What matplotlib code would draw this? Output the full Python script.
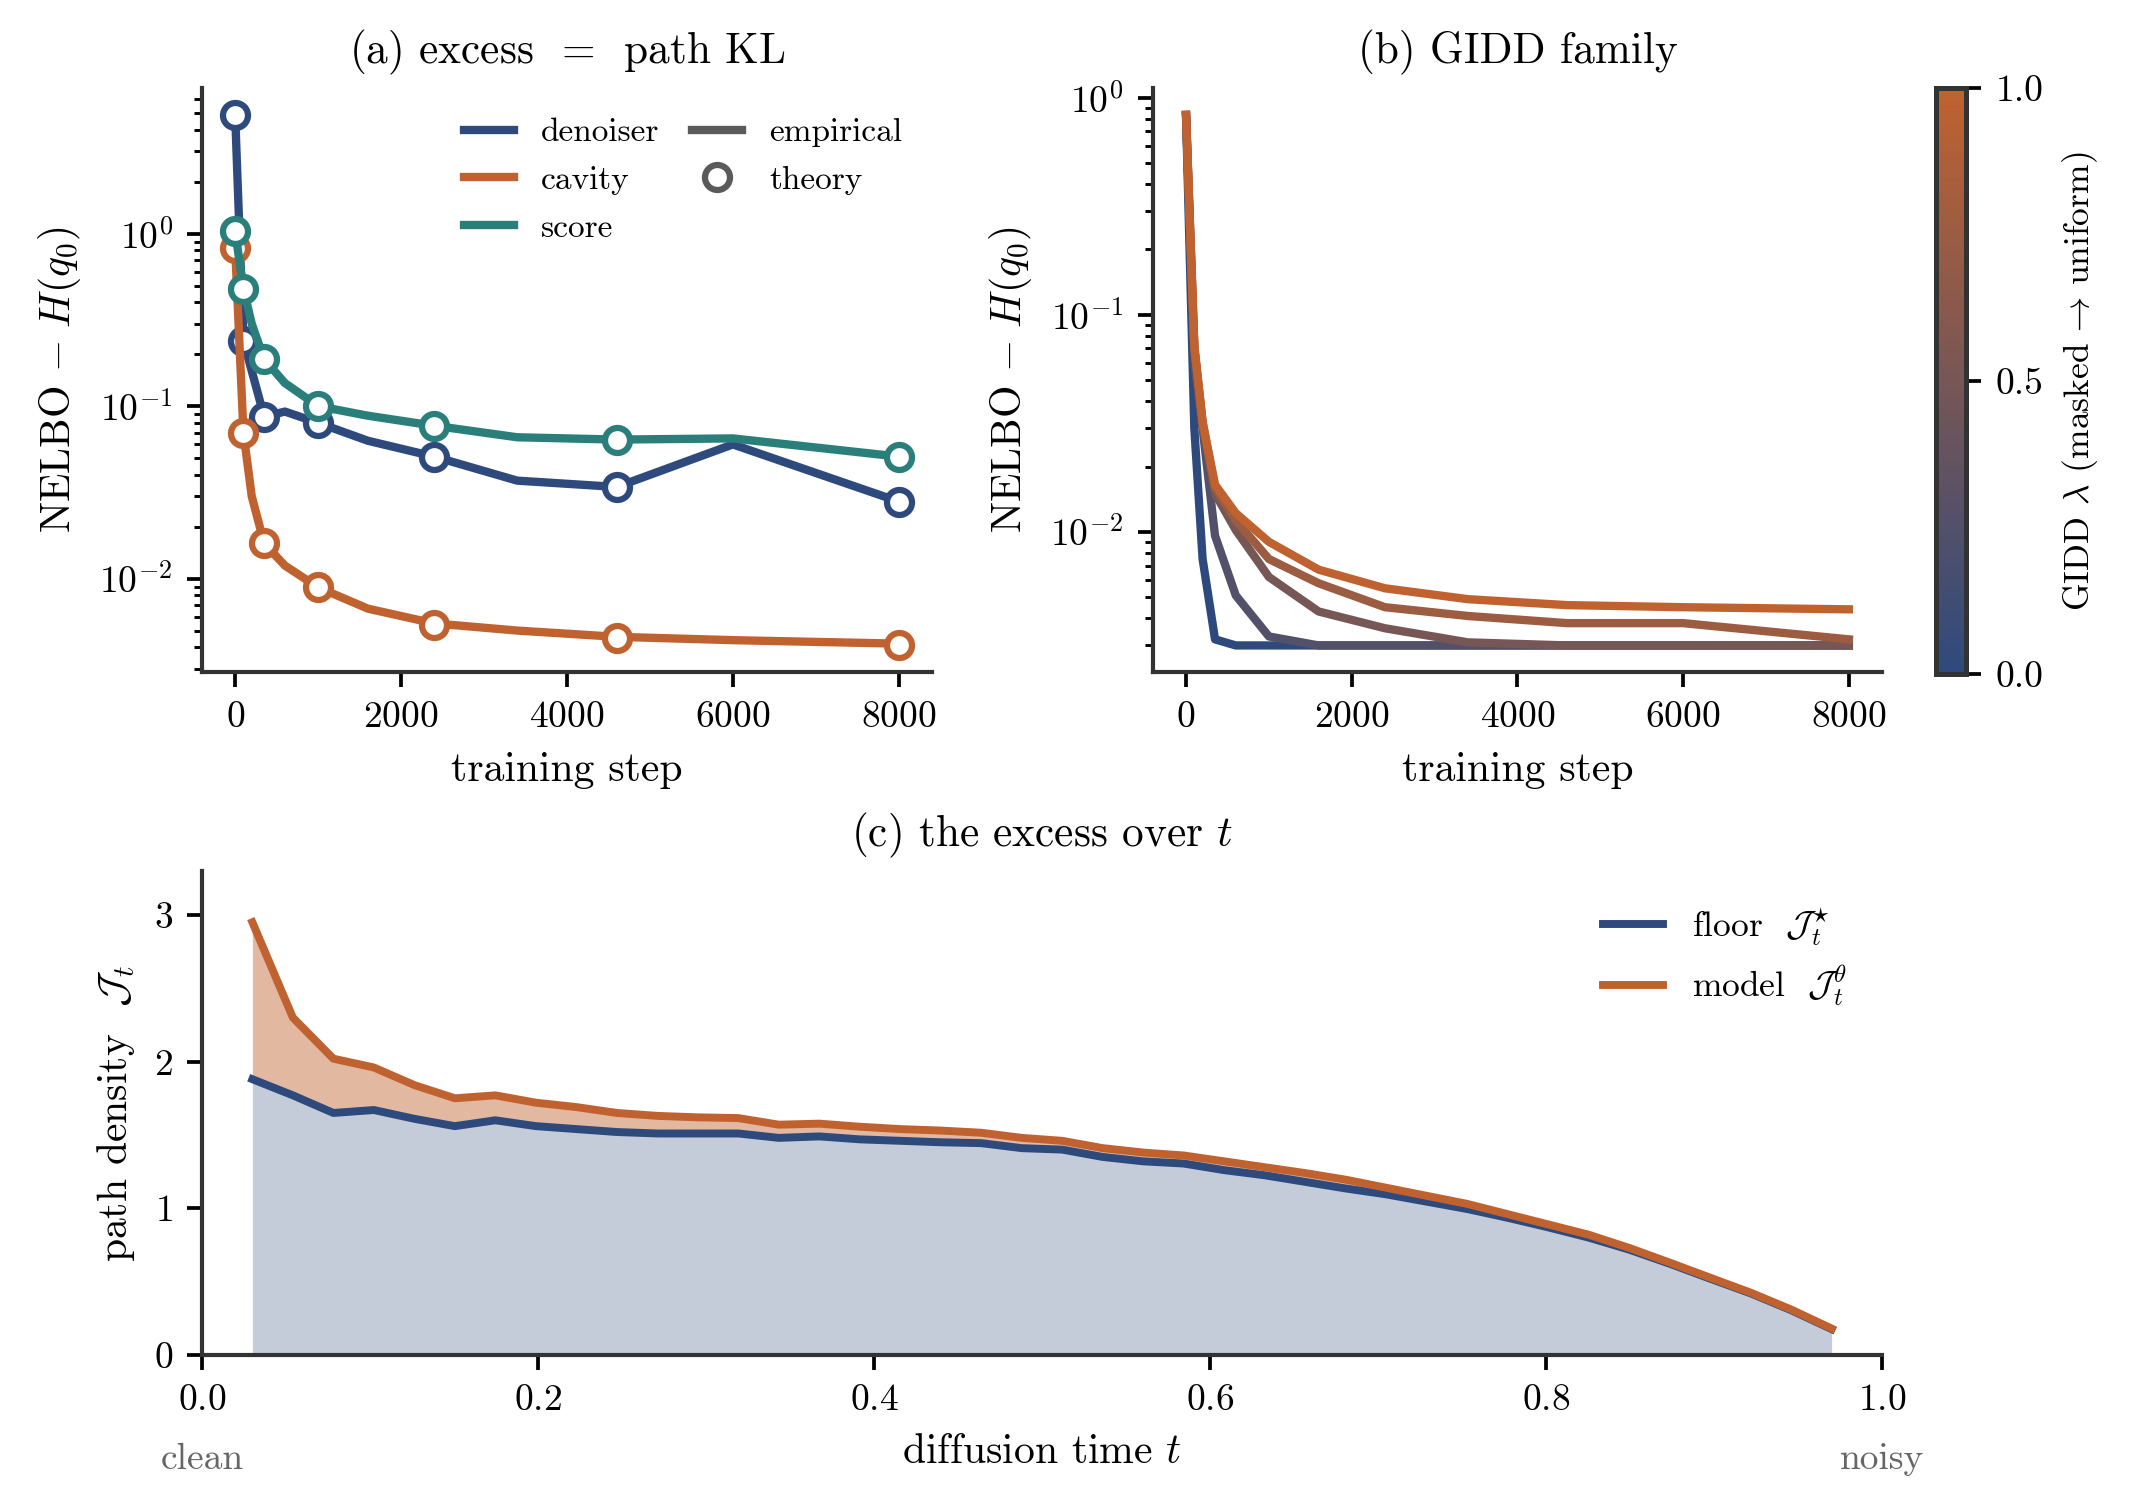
import numpy as np
import matplotlib
matplotlib.use("Agg")
import matplotlib.pyplot as plt
from matplotlib.colors import LinearSegmentedColormap, Normalize
from matplotlib.cm import ScalarMappable
from matplotlib.lines import Line2D

plt.rcParams.update({
    "font.family": "serif",
    "font.serif": ["cmr10"],
    "mathtext.fontset": "cm",
    "axes.formatter.use_mathtext": True,
    "axes.unicode_minus": False,
    "font.size": 9,
    "axes.edgecolor": "#333333",
    "axes.linewidth": 1.0,
    "xtick.major.width": 0.9,
    "ytick.major.width": 0.9,
    "xtick.minor.width": 0.7,
    "ytick.minor.width": 0.7,
    "xtick.major.size": 3.5,
    "ytick.major.size": 3.5,
    "ytick.minor.size": 2.0,
})

BLUE = "#2E4A7D"
ORANGE = "#C0622F"
TEAL = "#2A7F7A"
GRAY = "#5A5A5A"

# ---- (a) excess = path KL ----
steps = [0, 100, 200, 350, 600, 1000, 1600, 2400, 3400, 4600, 6000, 8000]
denoiser_emp = [4.9, 0.24, 0.16, 0.087, 0.093, 0.080, 0.063, 0.051, 0.037, 0.034, 0.060, 0.028]
cavity_emp = [0.83, 0.070, 0.030, 0.016, 0.0119, 0.0089, 0.0067, 0.0055, 0.0050, 0.0046, 0.0044, 0.0042]
score_emp = [1.03, 0.48, 0.30, 0.187, 0.136, 0.100, 0.088, 0.077, 0.066, 0.064, 0.065, 0.051]

theory_steps = [0, 100, 350, 1000, 2400, 4600, 8000]
denoiser_th = [4.9, 0.24, 0.087, 0.080, 0.051, 0.034, 0.028]
cavity_th = [0.83, 0.070, 0.016, 0.0089, 0.0054, 0.0045, 0.0041]
score_th = [1.03, 0.48, 0.187, 0.100, 0.077, 0.064, 0.051]

# ---- (b) GIDD family ----
gidd_lambdas = [0.0, 0.25, 0.5, 0.75, 1.0]
gidd_l000 = [0.83, 0.030, 0.0075, 0.0032, 0.0030, 0.0030, 0.0030, 0.0030, 0.0030, 0.0030, 0.0030, 0.0030]
gidd_l025 = [0.83, 0.060, 0.030, 0.0096, 0.0051, 0.0033, 0.0030, 0.0030, 0.0030, 0.0030, 0.0030, 0.0030]
gidd_l050 = [0.83, 0.070, 0.031, 0.0150, 0.0102, 0.0062, 0.0043, 0.0036, 0.0031, 0.0030, 0.0030, 0.0030]
gidd_l075 = [0.83, 0.071, 0.032, 0.0160, 0.0113, 0.0075, 0.0058, 0.0045, 0.0041, 0.0038, 0.0038, 0.0032]
gidd_l100 = [0.835, 0.072, 0.032, 0.0165, 0.0122, 0.0090, 0.0067, 0.0055, 0.0049, 0.0046, 0.0045, 0.0044]
gidd_curves = [gidd_l000, gidd_l025, gidd_l050, gidd_l075, gidd_l100]

# ---- (c) the excess over t ----
t_grid = np.linspace(0.03, 0.97, 40)
floor_J = [1.88, 1.77, 1.65, 1.67, 1.61, 1.56, 1.60, 1.56, 1.54, 1.52,
           1.51, 1.51, 1.51, 1.48, 1.49, 1.47, 1.46, 1.45, 1.444, 1.41,
           1.40, 1.35, 1.32, 1.305, 1.26, 1.225, 1.18, 1.135, 1.095, 1.045,
           0.995, 0.935, 0.87, 0.80, 0.718, 0.622, 0.52, 0.42, 0.305, 0.176]
model_J = [2.95, 2.30, 2.02, 1.96, 1.84, 1.75, 1.77, 1.72, 1.69, 1.65,
           1.63, 1.62, 1.615, 1.57, 1.577, 1.556, 1.54, 1.53, 1.515, 1.48,
           1.46, 1.41, 1.38, 1.36, 1.32, 1.28, 1.24, 1.195, 1.14, 1.085,
           1.03, 0.96, 0.89, 0.82, 0.73, 0.63, 0.527, 0.425, 0.31, 0.18]

fig = plt.figure(figsize=(2135 / 300, 1505 / 300), dpi=300)
ax_a = fig.add_axes([0.0946, 0.5535, 0.3419, 0.388])
ax_b = fig.add_axes([0.5400, 0.5535, 0.3415, 0.388])
cax = fig.add_axes([0.9068, 0.5522, 0.0141, 0.3894])
ax_c = fig.add_axes([0.0946, 0.0997, 0.7869, 0.3216])

for ax in (ax_a, ax_b, ax_c):
    ax.spines["top"].set_visible(False)
    ax.spines["right"].set_visible(False)

# panel a
for emp, th, col in [(denoiser_emp, denoiser_th, BLUE),
                     (cavity_emp, cavity_th, ORANGE),
                     (score_emp, score_th, TEAL)]:
    ax_a.plot(steps, emp, color=col, lw=2.0, solid_joinstyle="round")
    ax_a.plot(theory_steps, th, ls="none", marker="o", ms=6, mfc="white",
              mec=col, mew=1.5)
ax_a.set_yscale("log")
ax_a.set_xticks([0, 2000, 4000, 6000, 8000])
ax_a.set_xlabel("training step", fontsize=10)
ax_a.set_ylabel(r"NELBO $-\ H(q_0)$", fontsize=10)
ax_a.set_title(r"(a) excess $\,=\,$ path KL", fontsize=10.4)
handles = [Line2D([], [], color=BLUE, lw=2),
           Line2D([], [], color=ORANGE, lw=2),
           Line2D([], [], color=TEAL, lw=2),
           Line2D([], [], color=GRAY, lw=2),
           Line2D([], [], ls="none", marker="o", ms=6, mfc="white", mec=GRAY, mew=1.5)]
labels = ["denoiser", "cavity", "score", "empirical", "theory"]
ax_a.legend(handles, labels, ncol=2, loc="upper right", frameon=False,
            fontsize=8, handlelength=1.5, handletextpad=0.8,
            columnspacing=1.0, labelspacing=0.55, borderaxespad=0.5)

# panel b
cmap = LinearSegmentedColormap.from_list("gidd", [BLUE, ORANGE])
for lam, vals in zip(gidd_lambdas, gidd_curves):
    ax_b.plot(steps, vals, color=cmap(lam), lw=2.0)
ax_b.set_yscale("log")
ax_b.set_xticks([0, 2000, 4000, 6000, 8000])
ax_b.set_xlabel("training step", fontsize=10)
ax_b.set_ylabel(r"NELBO $-\ H(q_0)$", fontsize=10)
ax_b.set_title("(b) GIDD family", fontsize=10.4)

sm = ScalarMappable(norm=Normalize(0, 1), cmap=cmap)
cb = fig.colorbar(sm, cax=cax, ticks=[0.0, 0.5, 1.0])
cb.ax.set_yticklabels(["0.0", "0.5", "1.0"])
cb.outline.set_edgecolor("#333333")
cb.outline.set_linewidth(1.2)
cb.set_label(r"GIDD $\lambda$ (masked$\,\rightarrow\,$uniform)", fontsize=8.5)

# panel c
ax_c.fill_between(t_grid, 0, floor_J, color=BLUE, alpha=0.28, lw=0)
ax_c.fill_between(t_grid, floor_J, model_J, color=ORANGE, alpha=0.45, lw=0)
ax_c.plot(t_grid, floor_J, color=BLUE, lw=1.9, label=r"floor  $\mathcal{J}_t^{\star}$")
ax_c.plot(t_grid, model_J, color=ORANGE, lw=1.9, label=r"model  $\mathcal{J}_t^{\theta}$")
ax_c.set_xlim(0, 1)
ax_c.set_ylim(0, 3.3)
ax_c.set_yticks([0, 1, 2, 3])
ax_c.set_xlabel(r"diffusion time $t$", fontsize=10)
ax_c.set_ylabel(r"path density  $\mathcal{J}_t$", fontsize=10)
ax_c.set_title(r"(c) the excess over $t$", fontsize=10.4)
ax_c.legend(loc="upper right", frameon=False, fontsize=8.5, handlelength=1.7,
            handletextpad=0.8, labelspacing=0.45, borderaxespad=0.6)
for xpos, txt in [(0.0, "clean"), (1.0, "noisy")]:
    ax_c.annotate(txt, xy=(xpos, 0), xycoords=("data", "axes fraction"),
                  xytext=(0, -21), textcoords="offset points",
                  ha="center", va="top", fontsize=9, color="#666666")

fig.savefig("out.png", dpi=300)
